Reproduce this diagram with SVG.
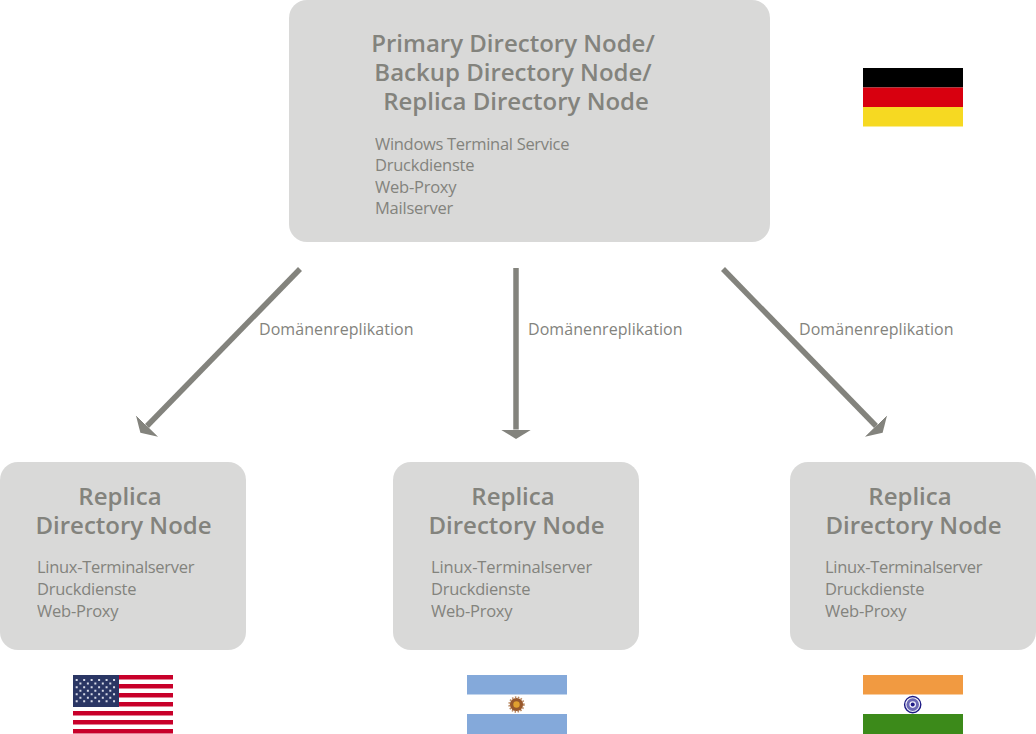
<svg xmlns="http://www.w3.org/2000/svg" width="1036" height="734" viewBox="0 0 1036 734">
<style>
.box{fill:#d9d9d8}
text{font-family:"Open Sans","Liberation Sans",sans-serif;fill:#83837d;opacity:.999}
.t{font-size:24px;font-weight:600;text-anchor:middle}
.b{font-size:16.5px;letter-spacing:-.24px}
.n{letter-spacing:-.3px}
.w{letter-spacing:-.1px}
.l{font-size:16px;letter-spacing:.07px}
.c{fill:none;stroke:#83837d;stroke-width:5.5;marker-end:url(#a)}
.star{fill:none;stroke:#d6d9e6;stroke-width:2;stroke-dasharray:2 5.470}
</style>
<defs>
<marker id="a" markerUnits="userSpaceOnUse" markerWidth="12" markerHeight="34" refX="0" refY="16" orient="auto" viewBox="0 0 12 32"><path d="M0 .5 9.500 16 0 31.500Z" fill="#83837d"/></marker>
</defs>
<rect width="1036" height="734" fill="#fff"/>
<g id="connectors">
<path class="c" d="M300 269 147 426"/>
<path class="c" d="M516 268V429.500"/>
<path class="c" d="M723 269 876 426"/>
<text class="l" x="259" y="334.500">Domänenreplikation</text>
<text class="l" x="528" y="334.500">Domänenreplikation</text>
<text class="l" x="799" y="334.500">Domänenreplikation</text>
</g>
<g id="primary">
<rect class="box" x="289" y="0" width="481" height="242" rx="18"/>
<text class="t" x="513" y="52">Primary Directory Node/</text>
<text class="t" x="513" y="81">Backup Directory Node/</text>
<text class="t" x="516" y="110">Replica Directory Node</text>
<text class="b n" x="375" y="150">Windows Terminal Service</text>
<text class="b" x="375" y="171">Druckdienste</text>
<text class="b" x="375" y="193">Web-Proxy</text>
<text class="b" x="375" y="214">Mailserver</text>
</g>
<g id="replica-us">
<rect class="box" x="0" y="462" width="246" height="188" rx="18"/>
<text class="t" x="120" y="505">Replica</text>
<text class="t" x="123.500" y="534">Directory Node</text>
<text class="b n" x="37" y="573">Linux-Terminalserver</text>
<text class="b" x="37" y="595">Druckdienste</text>
<text class="b" x="37" y="617">Web-Proxy</text>
</g>
<g id="replica-ar">
<rect class="box" x="393" y="462" width="246" height="188" rx="18"/>
<text class="t" x="513" y="505">Replica</text>
<text class="t" x="516.500" y="534">Directory Node</text>
<text class="b w" x="431" y="573">Linux-Terminalserver</text>
<text class="b" x="431" y="595">Druckdienste</text>
<text class="b" x="431" y="617">Web-Proxy</text>
</g>
<g id="replica-in">
<rect class="box" x="790" y="462" width="246" height="188" rx="18"/>
<text class="t" x="910" y="505">Replica</text>
<text class="t" x="913.500" y="534">Directory Node</text>
<text class="b n" x="825" y="573">Linux-Terminalserver</text>
<text class="b" x="825" y="595">Druckdienste</text>
<text class="b" x="825" y="617">Web-Proxy</text>
</g>
<g id="flag-de">
<rect x="863" y="68" width="100" height="19.500" fill="#000"/>
<rect x="863" y="87.500" width="100" height="19.500" fill="#d8000f"/>
<rect x="863" y="107" width="100" height="19.500" fill="#f6d922"/>
</g>
<g id="flag-us">
<g fill="#c8002a">
<rect x="73" y="675" width="100" height="4.500"/>
<rect x="73" y="684" width="100" height="4.500"/>
<rect x="73" y="693" width="100" height="4.500"/>
<rect x="73" y="702" width="100" height="4.500"/>
<rect x="73" y="711" width="100" height="4.500"/>
<rect x="73" y="720" width="100" height="4.500"/>
<rect x="73" y="729" width="100" height="4.500"/>
</g>
<rect x="73" y="675" width="46" height="32" fill="#2a3664"/>
<path class="star" d="M75.700 680H117M75.700 687.200H117M75.700 694.300H117M75.700 701.300H117"/>
<path class="star" d="M79.400 683.500H113M79.400 690.700H113M79.400 697.800H113"/>
</g>
<g id="flag-ar">
<rect x="467" y="675" width="100" height="19.500" fill="#84a9da"/>
<rect x="467" y="714" width="100" height="20" fill="#84a9da"/>
<circle cx="516.500" cy="704.500" r="7.400" fill="none" stroke="#b9865c" stroke-width="1.600" stroke-dasharray="1.500 1.500"/>
<circle cx="516.500" cy="704.500" r="6.600" fill="#98582c"/>
<circle cx="516.500" cy="704.500" r="3.200" fill="#e0a030"/>
</g>
<g id="flag-in">
<rect x="863" y="675" width="100" height="19.500" fill="#f19a41"/>
<rect x="863" y="714" width="100" height="20" fill="#3c8a1a"/>
<circle cx="912.700" cy="704.600" r="8.100" fill="#f0f0f8" stroke="#1d1a85" stroke-width="1.400"/>
<circle cx="912.700" cy="704.600" r="4.800" fill="none" stroke="#6a68b4" stroke-width="3"/>
<circle cx="912.700" cy="704.600" r="2" fill="#1d1a85"/>
</g>
</svg>
